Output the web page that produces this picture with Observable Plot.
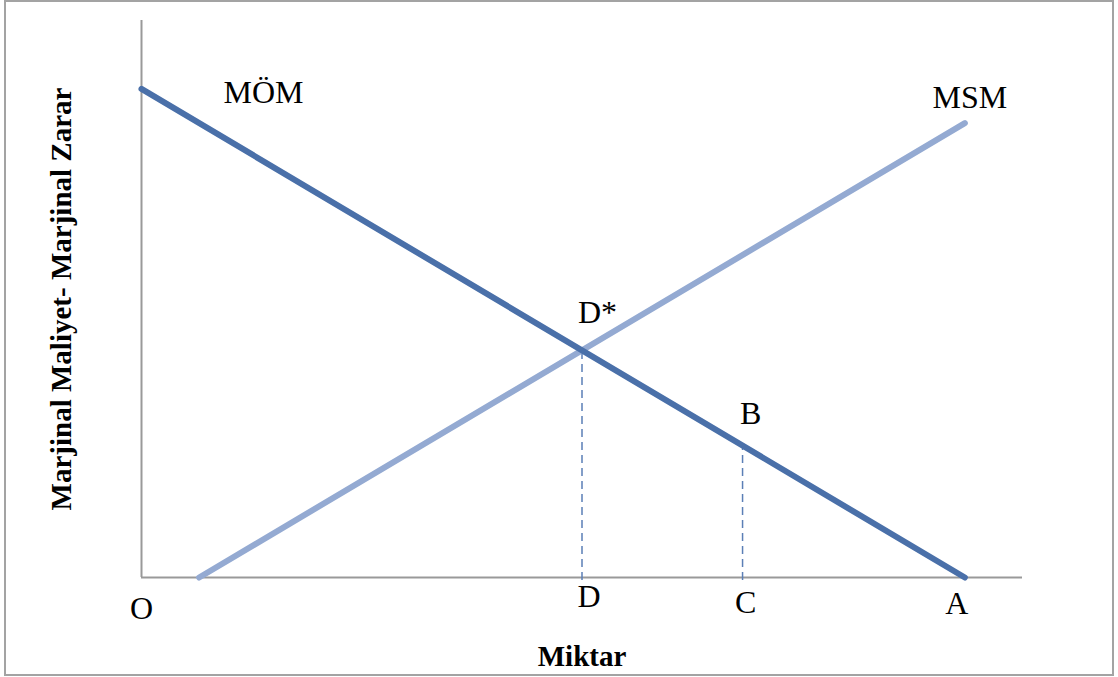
<!DOCTYPE html>
<html>
<head>
<meta charset="utf-8">
<script src="https://cdn.jsdelivr.net/npm/d3@7"></script>
<script src="https://cdn.jsdelivr.net/npm/@observablehq/plot@0.6"></script>
<style>
  html, body { margin: 0; padding: 0; background: #fff; }
  #wrap { position: relative; width: 1118px; height: 677px; overflow: hidden; }
  #frame { position: absolute; left: 4px; top: 0px; width: 1106px; height: 672px; border: 2px solid #a3a3a3; pointer-events: none; }
</style>
</head>
<body>
<div id="wrap"><div id="frame"></div></div>
<script>
// Marginal benefit line (MÖM) and marginal cost line (MSM), in quantity / value units
const momX = [0, 100];
const momY = [100, 0];
const msmX = [7, 100];
const msmY = [0, 93];
// Equilibrium D* and point B on MÖM
const eqX = 53.5, eqY = 46.5;
const bX = 73, bY = 27;
// Axis point labels
const axisLabels = ["O", "D", "C", "A"];
const axisLabelX = [0, 53.5, 73, 100];
const xMax = 107, yMax = 114;
const xTitle = "Miktar";
const yTitle = "Marjinal Maliyet- Marjinal Zarar";

const mom = momX.map((x, i) => ({x, y: momY[i]}));
const msm = msmX.map((x, i) => ({x, y: msmY[i]}));
const drops = [{x: eqX, y: eqY}, {x: bX, y: bY}];
const axisOff = [{dx: 0, dy: 41}, {dx: 7, dy: 29}, {dx: 3, dy: 35}, {dx: -8, dy: 36}];
const ax = axisLabels.map((t, i) => ({t, x: axisLabelX[i], y: 0, ...axisOff[i]}));

const serif = "'Liberation Serif', 'Times New Roman', serif";

const chart = Plot.plot({
  width: 1118,
  height: 677,
  marginLeft: 141,
  marginRight: 96,
  marginTop: 20,
  marginBottom: 100,
  style: {fontFamily: serif, background: "transparent", overflow: "visible"},
  x: {domain: [0, xMax], axis: null},
  y: {domain: [0, yMax], axis: null},
  marks: [
    Plot.ruleX([0], {y1: 0, y2: yMax, stroke: "#999", strokeWidth: 2}),
    Plot.ruleY([0], {x1: 0, x2: xMax, stroke: "#999", strokeWidth: 2}),
    Plot.ruleX(drops, {x: "x", y1: -0.6, y2: "y", stroke: "#5b7fb6", strokeWidth: 1.5, strokeDasharray: "8,5"}),
    Plot.line(msm, {x: "x", y: "y", stroke: "#94aad2", strokeWidth: 6, strokeLinecap: "round"}),
    Plot.line(mom, {x: "x", y: "y", stroke: "#4a70a9", strokeWidth: 6, strokeLinecap: "round"}),
    Plot.text([mom[0]], {x: "x", y: "y", text: () => "MÖM", dx: 122, dy: 14, lineAnchor: "bottom", fontSize: 32, fill: "#000"}),
    Plot.text([msm[1]], {x: "x", y: "y", text: () => "MSM", dx: 5, dy: -15, lineAnchor: "bottom", fontSize: 32, fill: "#000"}),
    Plot.text([drops[0]], {x: "x", y: "y", text: () => "D*", dx: -4, dy: -27, textAnchor: "start", lineAnchor: "bottom", fontSize: 32, fill: "#000"}),
    Plot.text([drops[1]], {x: "x", y: "y", text: () => "B", dx: 8, dy: -22, lineAnchor: "bottom", fontSize: 32, fill: "#000"}),
    ...ax.map(d => Plot.text([d], {x: "x", y: "y", text: "t", dx: d.dx, dy: d.dy, lineAnchor: "bottom", fontSize: 32, fill: "#000"})),
    Plot.text([xTitle], {frameAnchor: "bottom", text: d => d, dy: 88, lineAnchor: "bottom", textAnchor: "middle", fontSize: 29, fontWeight: "bold", fill: "#000"}),
    Plot.text([yTitle], {frameAnchor: "left", text: d => d, dx: -71, rotate: -90, lineAnchor: "bottom", textAnchor: "middle", fontSize: 29, fontWeight: "bold", fill: "#000"})
  ]
});
document.getElementById("wrap").prepend(chart);
</script>
</body>
</html>
